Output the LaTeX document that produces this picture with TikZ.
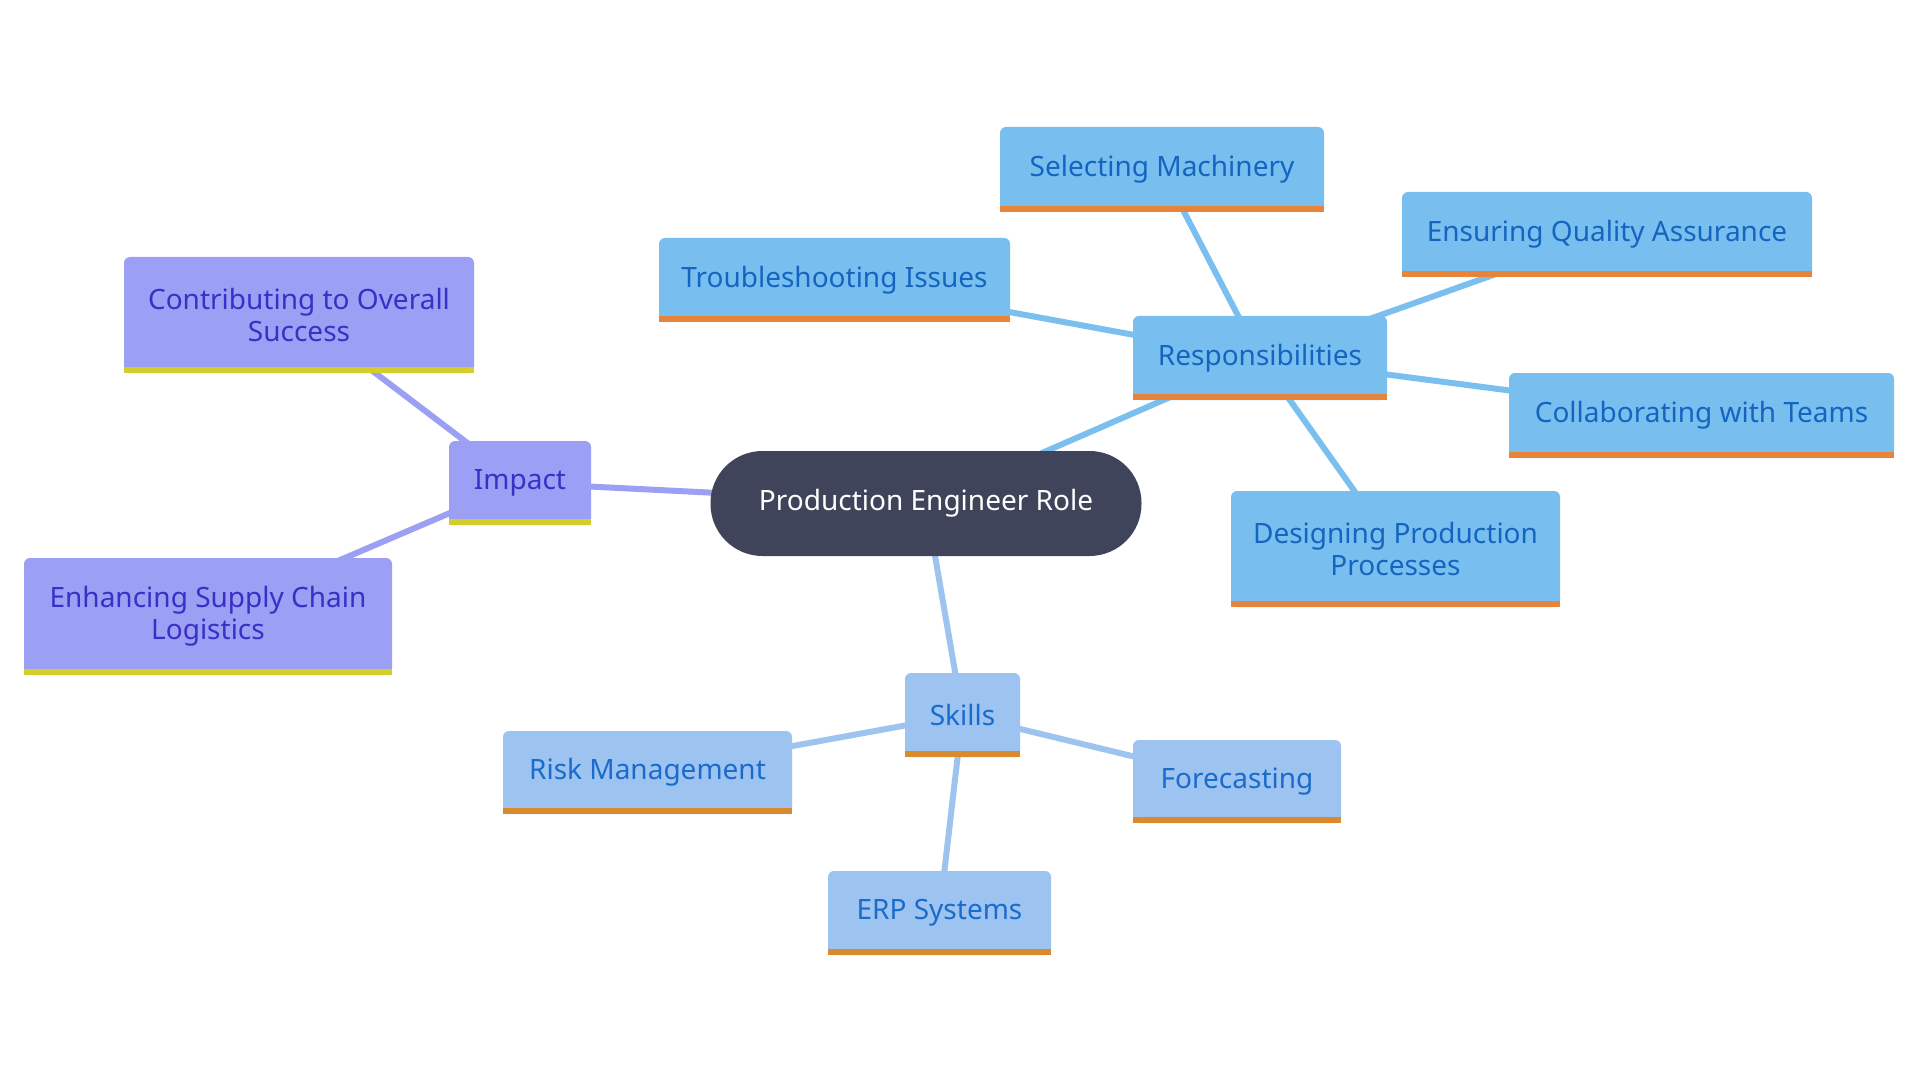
\documentclass[tikz,border=0pt]{standalone}
\usepackage{fontspec}
\setmainfont{Noto Sans}
\usetikzlibrary{backgrounds}

\definecolor{rootfill}{HTML}{40445A}
\definecolor{respfill}{HTML}{78BFF0}
\definecolor{resptext}{HTML}{1565C0}
\definecolor{respbar}{HTML}{E8833A}
\definecolor{respline}{HTML}{7BBFEE}
\definecolor{skillfill}{HTML}{9DC3F0}
\definecolor{skilltext}{HTML}{1A6BCC}
\definecolor{skillbar}{HTML}{D98A2C}
\definecolor{skillline}{HTML}{9DC3EE}
\definecolor{impfill}{HTML}{9BA0F4}
\definecolor{imptext}{HTML}{3A2FC6}
\definecolor{impbar}{HTML}{D5CD2A}
\definecolor{impline}{HTML}{9BA0F2}

\begin{document}
\begin{tikzpicture}[x=0.5pt, y=-0.5pt, font=\fontsize{14}{15.8}\selectfont,
  box/.style={anchor=center, align=center, inner sep=0pt, rounded corners=3pt},
  respbox/.style={box, fill=respfill, text=resptext},
  skillbox/.style={box, fill=skillfill, text=skilltext},
  impbox/.style={box, fill=impfill, text=imptext},
  link/.style={line width=3pt}]
\useasboundingbox (0,0) rectangle (1920,1080);

\node[box, fill=rootfill, text=white, minimum width=215.5pt, minimum height=52.5pt,
  rounded corners=26pt] (root) at (926,503.5) {Production Engineer Role};

\foreach \name/\x/\y/\w/\h/\txt in {
  resp/1260/358/127/42/Responsibilities,
  machinery/1162/169.5/162/42.5/Selecting Machinery,
  quality/1607/234.5/205/42.5/Ensuring Quality Assurance,
  trouble/834.5/280/175.5/42/Troubleshooting Issues,
  teams/1701.5/415.5/192.5/42.5/Collaborating with Teams,
  design/1395.5/549/164.5/58/{Designing Production\\Processes}} {
  \node[respbox, minimum width=\w pt, minimum height=\h pt] (\name) at (\x,\y) {\txt};
  \fill[respbar] (\name.south west) rectangle ([yshift=3pt]\name.south east);
}

\foreach \name/\x/\y/\w/\h/\txt in {
  skills/962.5/715/57.5/42/Skills,
  risk/647.5/772.5/144.5/41.5/Risk Management,
  forecast/1237/781.5/104/41.5/Forecasting,
  erp/939.5/913/111.5/42/ERP Systems} {
  \node[skillbox, minimum width=\w pt, minimum height=\h pt] (\name) at (\x,\y) {\txt};
  \fill[skillbar] (\name.south west) rectangle ([yshift=3pt]\name.south east);
}

\foreach \name/\x/\y/\w/\h/\txt in {
  impact/520/483/71/42/Impact,
  success/299/315/175/58/{Contributing to Overall\\Success},
  supply/208/616.5/184/58.5/{Enhancing Supply Chain\\Logistics}} {
  \node[impbox, minimum width=\w pt, minimum height=\h pt] (\name) at (\x,\y) {\txt};
  \fill[impbar] (\name.south west) rectangle ([yshift=3pt]\name.south east);
}

\begin{scope}[on background layer]
\foreach \a/\b/\c in {root/resp/respline, resp/machinery/respline, resp/quality/respline,
  resp/trouble/respline, resp/teams/respline, resp/design/respline,
  root/skills/skillline, skills/risk/skillline, skills/forecast/skillline, skills/erp/skillline,
  root/impact/impline, impact/success/impline, impact/supply/impline}
  \draw[link, \c] (\a.center) -- (\b.center);
\end{scope}
\end{tikzpicture}
\end{document}
